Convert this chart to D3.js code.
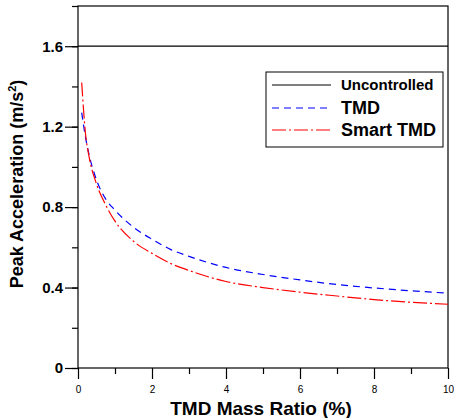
<!DOCTYPE html>
<script src="https://d3js.org/d3.v7.min.js"></script>
<style>
    html, body { margin: 0; background: white; }
    text { font-family: Arial, "Liberation Sans", sans-serif; }
</style>
<body></body>
<script>
    // DATA
    const massRatio = [0.1, 0.2, 0.3, 0.5, 0.75, 1, 1.5, 2, 2.5, 3, 4, 5, 6, 7, 8, 9, 10];
    const uncontrolled = [1.6, 1.6];
    const tmd   = [1.27, 1.15, 1.06, 0.935, 0.84, 0.785, 0.70, 0.64, 0.59, 0.555, 0.50, 0.465, 0.438, 0.415, 0.398, 0.384, 0.372];
    const smart = [1.42, 1.17, 1.05, 0.915, 0.81, 0.73, 0.63, 0.57, 0.52, 0.485, 0.43, 0.40, 0.377, 0.358, 0.34, 0.327, 0.317];
    const yTicks = [0, 0.4, 0.8, 1.2, 1.6];
    const legendNames = ["Uncontrolled", "TMD", "Smart TMD"];

    const width = 454, height = 418;
    const padL = 78, padR = 448, padT = 6, padB = 368;
    const font = "Arial, 'Liberation Sans', sans-serif";

    const svg = d3.select("body").append("svg")
        .attr("width", width).attr("height", height);

    const x = d3.scaleLinear().domain([0, 10]).range([padL, padR]);
    const y = d3.scaleLinear().domain([0, 1.8]).range([padB, padT]);

    // frame
    svg.append("rect")
        .attr("x", padL).attr("y", padT)
        .attr("width", padR - padL).attr("height", padB - padT)
        .attr("fill", "none").attr("stroke", "#000").attr("stroke-width", 1.2);

    // y axis: major + minor ticks
    const yAxis = svg.append("g").attr("transform", `translate(${padL},0)`);
    yAxis.call(d3.axisLeft(y).tickValues(d3.range(0, 1.81, 0.2)).tickSize(6).tickFormat(""))
        .call(g => g.select(".domain").remove());
    yAxis.selectAll("line").attr("stroke-width", 1.2);
    yAxis.append("g").call(d3.axisLeft(y).tickValues(yTicks).tickSize(13).tickPadding(2)
            .tickFormat(d => d === 0 ? "0" : d3.format(".1f")(d)))
        .call(g => g.select(".domain").remove())
        .call(g => g.selectAll("line").attr("stroke-width", 1.2))
        .call(g => g.selectAll("text").attr("font-size", 15).attr("font-weight", "bold")
            .attr("fill", "#000").style("font-family", font));

    // x axis
    const xAxis = svg.append("g").attr("transform", `translate(0,${padB})`);
    xAxis.call(d3.axisBottom(x).tickValues(d3.range(1, 10, 2)).tickSize(6).tickFormat(""))
        .call(g => g.select(".domain").remove());
    xAxis.selectAll("line").attr("stroke-width", 1.2);
    xAxis.append("g").call(d3.axisBottom(x).tickValues(d3.range(0, 11, 2)).tickSize(11).tickPadding(7))
        .call(g => g.select(".domain").remove())
        .call(g => g.selectAll("line").attr("stroke-width", 1.2))
        .call(g => g.selectAll("text").attr("font-size", 10).attr("fill", "#000")
            .style("font-family", font));

    // axis titles
    svg.append("text")
        .attr("x", 261).attr("y", 415)
        .attr("text-anchor", "middle").attr("font-size", 19).attr("font-weight", "bold")
        .text("TMD Mass Ratio (%)");
    svg.append("text")
        .attr("transform", `translate(23,184) rotate(-90)`)
        .attr("text-anchor", "middle").attr("font-size", 18).attr("font-weight", "bold")
        .html("Peak Acceleration (m/s<tspan dy='-7' font-size='11'>2</tspan><tspan dy='7'>)</tspan>");

    // lines
    const line = d3.line().x(d => x(d[0])).y(d => y(d[1])).curve(d3.curveMonotoneX);
    svg.append("path")
        .attr("d", line([[0, uncontrolled[0]], [10, uncontrolled[1]]]))
        .attr("fill", "none").attr("stroke", "#000").attr("stroke-width", 1.2);
    svg.append("path")
        .attr("d", line(massRatio.map((m, i) => [m, tmd[i]])))
        .attr("fill", "none").attr("stroke", "#0000ff").attr("stroke-width", 1.2)
        .attr("stroke-dasharray", "7,5");
    svg.append("path")
        .attr("d", line(massRatio.map((m, i) => [m, smart[i]])))
        .attr("fill", "none").attr("stroke", "#ff0000").attr("stroke-width", 1.2)
        .attr("stroke-dasharray", "14,3,2,3");

    // legend
    const lg = svg.append("g");
    lg.append("rect").attr("x", 266).attr("y", 72).attr("width", 177).attr("height", 75)
        .attr("fill", "white").attr("stroke", "#000").attr("stroke-width", 1);
    const styles = [
        { color: "#000", dash: null, size: 15 },
        { color: "#0000ff", dash: "7,5", size: 18 },
        { color: "#ff0000", dash: "14,3,2,3", size: 18 }
    ];
    const rowY = [85, 108, 130];
    legendNames.forEach((name, i) => {
        lg.append("line").attr("x1", 272).attr("x2", 331)
            .attr("y1", rowY[i]).attr("y2", rowY[i])
            .attr("stroke", styles[i].color).attr("stroke-width", 1.2)
            .attr("stroke-dasharray", styles[i].dash);
        lg.append("text").attr("x", 341).attr("y", rowY[i]).attr("dy", "0.35em")
            .attr("font-size", styles[i].size).attr("font-weight", "bold")
            .text(name);
    });
</script>
